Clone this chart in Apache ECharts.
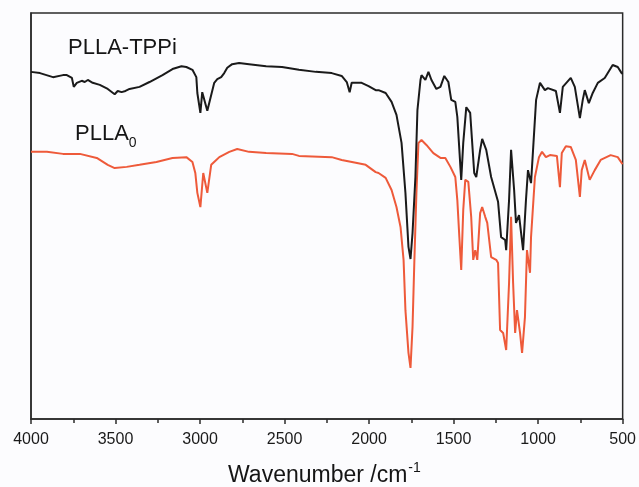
<!DOCTYPE html>
<html>
<head>
<meta charset="utf-8">
<script src="https://cdn.jsdelivr.net/npm/echarts@6/dist/echarts.min.js"></script>
<style>
html,body{margin:0;padding:0;background:#fcfcfe;}
#c{width:639px;height:487px;}
</style>
</head>
<body>
<div id="c"></div>
<script>
// PLLA-TPPi (black) : wavenumber (cm-1) and transmittance (a.u.)
var tppiWn = [4000,3947,3870,3811,3788,3758,3747,3729,3700,3682,3664,3635,3593,3546,3505,3487,3464,3441,3417,3358,3299,3222,3163,3110,3081,3045,3022,3016,2998,2987,2957,2916,2898,2875,2857,2839,2810,2769,2710,2609,2515,2415,2315,2221,2162,2132,2115,2103,2044,2003,1961,1944,1902,1867,1838,1808,1785,1767,1755,1743,1726,1714,1696,1690,1667,1649,1631,1602,1578,1555,1531,1514,1490,1478,1455,1443,1425,1402,1378,1366,1343,1331,1307,1278,1237,1219,1195,1189,1172,1160,1142,1131,1113,1089,1072,1060,1042,1030,1012,989,960,942,895,871,854,807,783,753,736,724,700,677,647,606,559,529,506,500];
var tppiT = [85.5,85.2,84.2,84.7,84.7,84.0,81.8,82.8,83.3,83.0,83.5,82.8,82.3,81.3,80.0,80.8,80.5,80.8,81.3,81.8,83.0,84.7,86.2,86.9,86.7,86.0,84.2,80.3,75.4,80.5,75.9,82.8,83.7,84.2,85.2,86.5,87.4,87.7,87.4,86.9,86.7,86.0,85.5,85.2,84.5,83.0,80.5,82.8,82.8,82.0,81.0,81.0,80.3,78.1,74.9,68.0,55.7,42.4,39.4,45.8,59.6,76.1,83.5,84.7,83.5,85.5,83.5,81.3,81.8,84.5,83.0,78.6,78.1,74.4,58.9,68.0,76.8,75.4,60.6,59.6,66.3,69.0,66.3,59.6,53.5,44.8,44.1,41.6,53.9,66.3,56.4,48.3,50.2,41.6,53.9,61.3,58.1,66.3,78.6,82.8,81.0,81.5,80.8,75.4,81.8,84.0,81.8,74.1,78.6,81.0,77.8,80.3,82.8,84.0,87.2,86.7,85.2,85.0];

// PLLA0 (red)
var pllaWn = [4000,3906,3811,3711,3611,3546,3505,3434,3358,3258,3163,3081,3045,3028,3016,2998,2981,2957,2934,2904,2886,2827,2780,2710,2609,2456,2415,2221,2162,2079,2020,1961,1944,1902,1867,1838,1814,1796,1785,1767,1755,1743,1732,1720,1708,1690,1661,1620,1578,1549,1519,1490,1478,1466,1455,1443,1431,1413,1396,1384,1372,1360,1343,1331,1313,1301,1278,1248,1237,1225,1207,1189,1172,1160,1148,1136,1125,1107,1095,1078,1066,1048,1042,1019,995,977,954,930,889,871,860,836,807,777,753,742,724,695,665,630,571,529,506,500];
var pllaT = [65.8,65.8,65.3,65.3,64.3,62.6,61.8,62.1,62.6,63.3,64.3,64.5,63.3,60.6,55.7,52.2,60.6,55.7,62.6,63.8,64.5,65.8,66.5,65.8,65.5,65.3,64.8,64.5,63.8,63.1,62.6,60.8,60.6,59.4,56.4,52.2,47.3,39.2,26.8,16.3,12.6,22.7,39.2,55.7,68.0,68.7,67.5,65.5,64.3,64.3,62.1,59.6,53.9,44.8,36.7,51.5,58.9,58.4,49.8,39.2,41.6,39.2,50.7,52.2,49.8,48.3,39.9,39.2,38.4,21.9,21.2,17.0,33.5,49.8,33.5,21.2,26.8,21.2,16.3,25.1,41.6,36.0,44.8,59.6,64.5,65.8,64.5,65.0,64.8,57.1,65.5,67.2,67.0,63.8,54.7,61.3,63.8,58.9,61.3,63.8,65.0,64.5,63.1,62.8];

var xTicks = [4000,3500,3000,2500,2000,1500,1000,500];
var seriesNames = ['PLLA-TPPi','PLLA0'];

function pairs(xs, ys){ var o=[]; for(var i=0;i<xs.length;i++) o.push([xs[i], ys[i]]); return o; }

var chart = echarts.init(document.getElementById('c'), null, {renderer:'canvas'});
var axisColor = '#2b2b2b';
chart.setOption({
  backgroundColor: '#fcfcfe',
  animation: false,
  grid: {left: 31, right: 14, top: 13, bottom: 68, show: true, borderColor: axisColor, borderWidth: 1.5, backgroundColor: 'transparent'},
  xAxis: {
    type: 'value', min: 500, max: 4000, interval: 500, inverse: true,
    axisLine: {show: true, onZero: false, lineStyle: {color: axisColor, width: 1.5}},
    axisTick: {show: true, inside: false, length: 5, lineStyle: {color: axisColor, width: 1.5}},
    minorTick: {show: true, splitNumber: 2, length: 4, lineStyle: {color: axisColor, width: 1.5}},
    splitLine: {show: false},
    axisLabel: {
      color: '#1a1a1a', fontSize: 16, fontFamily: 'Liberation Sans, Arial, sans-serif', margin: 13,
      formatter: function(v){ return xTicks.indexOf(v) >= 0 ? String(v) : ''; }
    }
  },
  yAxis: {
    type: 'value', min: 0, max: 100,
    axisLine: {show: true, lineStyle: {color: axisColor, width: 1.5}},
    axisTick: {show: false}, axisLabel: {show: false}, splitLine: {show: false}
  },
  graphic: [
    {type: 'text', left: 68, top: 37, style: {text: 'PLLA-TPPi', fill: '#151515', font: '22px "Liberation Sans", Arial, sans-serif'}},
    {type: 'text', left: 75, top: 123, style: {
      text: '{m|PLLA}{s|0}', fill: '#151515',
      rich: {
        m: {fontSize: 22, fontFamily: 'Liberation Sans', fill: '#151515', color: '#151515', verticalAlign: 'bottom'},
        s: {fontSize: 14, fontFamily: 'Liberation Sans', fill: '#151515', color: '#151515', verticalAlign: 'bottom', padding: [0,0,-5,0]}
      }
    }},
    {type: 'text', left: 228, top: 461, style: {
      text: '{m|Wavenumber /cm}{s|-1}', fill: '#151515',
      rich: {
        m: {fontSize: 23, fontFamily: 'Liberation Sans', fill: '#151515', color: '#151515', verticalAlign: 'bottom'},
        s: {fontSize: 14, fontFamily: 'Liberation Sans', fill: '#151515', color: '#151515', verticalAlign: 'bottom', padding: [0,0,12,1]}
      }
    }}
  ],
  series: [
    {name: seriesNames[0], type: 'line', data: pairs(tppiWn, tppiT), showSymbol: false, symbol: 'none',
     lineStyle: {color: '#1a1a1a', width: 2}, z: 3},
    {name: seriesNames[1], type: 'line', data: pairs(pllaWn, pllaT), showSymbol: false, symbol: 'none',
     lineStyle: {color: '#ee5a3a', width: 2}, z: 2}
  ]
});
</script>
</body>
</html>
